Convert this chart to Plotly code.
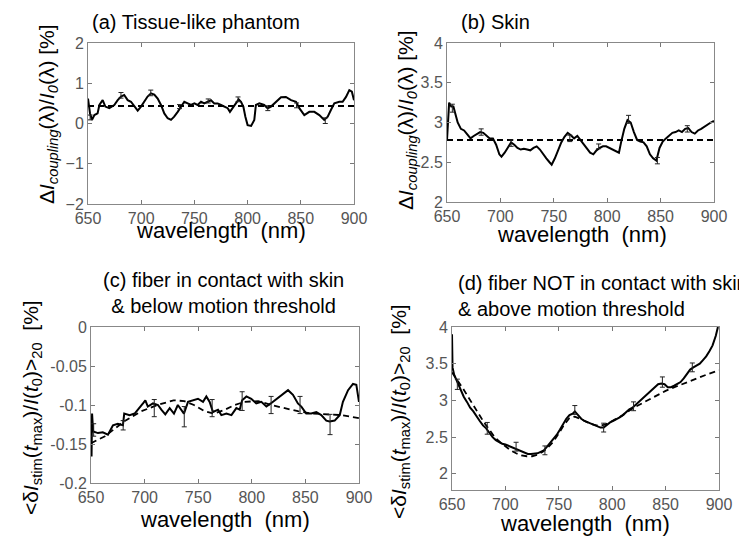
import plotly.graph_objects as go

# ---------------- data ----------------
# (a) Tissue-like phantom
wl_a = [650, 651.9, 653.8, 656, 659, 660.7, 663.8, 666.3, 670, 674.7, 677.9, 681, 684, 687.3, 690.4,
        693.5, 696.7, 699.8, 703, 706, 709.2, 712.3, 715.5, 718.6, 721.7, 724.9, 728, 731, 734.3,
        737.5, 740.5, 743.7, 746.8, 750, 753, 756.2, 759.3, 762.5, 765.6, 768.7, 771.8, 775, 778,
        781.3, 783.4, 786, 789, 791.6, 793.8, 796, 797.9, 800, 803.3, 806.3, 807.8, 811, 815.6,
        818.8, 822, 826.6, 831.4, 836, 840.8, 845.5, 848.6, 853.3, 858, 862.7, 867.4, 872, 875.3,
        878.4, 881.5, 886.2, 889.3, 892.5, 895.6, 898, 900]
val_a = [0.62, 0.25, 0.09, 0.21, 0.25, 0.46, 0.58, 0.42, 0.38, 0.46, 0.58, 0.67, 0.71, 0.58, 0.54,
         0.42, 0.32, 0.42, 0.54, 0.67, 0.75, 0.72, 0.62, 0.46, 0.25, 0.13, 0.09, 0.17, 0.29,
         0.42, 0.54, 0.50, 0.46, 0.50, 0.46, 0.54, 0.50, 0.54, 0.58, 0.50, 0.50, 0.46, 0.42,
         0.38, 0.29, 0.38, 0.50, 0.60, 0.54, 0.42, 0.17, -0.04, -0.06, 0.09, 0.46, 0.50, 0.46,
         0.38, 0.42, 0.54, 0.65, 0.66, 0.58, 0.54, 0.38, 0.21, 0.29, 0.29, 0.21, 0.09, 0.17,
         0.34, 0.50, 0.54, 0.54, 0.66, 0.83, 0.79, 0.58]
fit_a = [0.435, 0.435]
fit_wl_a = [650, 900]
err_wl_a = [652, 681, 709, 736, 763, 791, 819, 846, 873]
err_val_a = [0.15, 0.70, 0.76, 0.42, 0.56, 0.60, 0.38, 0.45, 0.07]
err_a = [0.06, 0.07, 0.07, 0.05, 0.05, 0.06, 0.06, 0.06, 0.07]

# (b) Skin
wl_b = [650, 651, 652, 654, 656, 658, 660, 663, 666, 669, 672, 675, 678, 681, 684, 687, 690, 693,
        696, 699, 701, 704, 707, 710, 713, 716, 719, 722, 725, 728, 731, 734, 737, 740, 743, 746,
        748, 751, 754, 757, 760, 763, 766, 769, 772, 775, 778, 781, 784, 787, 790, 793, 796, 799,
        802, 805, 808, 811, 813, 816, 819, 822, 825, 828, 831, 834, 837, 840, 843, 846, 849, 852,
        855, 858, 861, 864, 867, 870, 873, 876, 879, 882, 885, 888, 891, 894, 897, 900]
val_b = [2.78, 3.10, 3.25, 3.20, 3.20, 3.10, 3.00, 2.92, 2.90, 2.85, 2.80, 2.83, 2.85, 2.88, 2.87,
         2.83, 2.80, 2.80, 2.72, 2.60, 2.57, 2.62, 2.68, 2.75, 2.72, 2.68, 2.66, 2.67, 2.66, 2.65,
         2.68, 2.70, 2.66, 2.60, 2.55, 2.50, 2.47, 2.55, 2.65, 2.75, 2.82, 2.87, 2.84, 2.80, 2.83,
         2.78, 2.73, 2.68, 2.62, 2.60, 2.65, 2.68, 2.70, 2.70, 2.68, 2.65, 2.63, 2.62, 2.75, 2.92,
         3.03, 3.00, 2.88, 2.78, 2.76, 2.75, 2.70, 2.60, 2.55, 2.52, 2.68, 2.76, 2.80, 2.83, 2.87,
         2.88, 2.90, 2.88, 2.92, 2.93, 2.88, 2.86, 2.90, 2.92, 2.95, 2.97, 3.00, 3.02]
fit_b = [2.78, 2.78]
fit_wl_b = [650, 900]
err_wl_b = [655, 682, 710, 765, 792, 820, 847, 875]
err_val_b = [3.18, 2.88, 2.74, 2.80, 2.70, 3.04, 2.52, 2.92]
err_b = [0.05, 0.04, 0.04, 0.04, 0.03, 0.05, 0.04, 0.04]

# (c) fiber in contact with skin & below motion threshold
wl_c = [650, 650.5, 651, 652, 656.5, 661, 665.8, 670.5, 675, 679.8, 681, 686, 690.7, 694, 698.5,
        700.7, 703, 707.8, 712.5, 715.6, 719.3, 723.4, 727.4, 731, 734, 736.7, 740.5, 745, 749.8,
        754.5, 757.6, 760.7, 763.8, 768.5, 771.6, 776.3, 781, 785.6, 788.7, 791, 795, 799.5,
        804.2, 808.9, 813.6, 817.7, 821.4, 826, 830.7, 833.8, 838.4, 843, 846.2, 850.8, 855.5,
        860.2, 864.8, 869.5, 872.6, 877.3, 882, 885, 889.8, 894.4, 897.5, 900]
val_c = [-0.14, -0.166, -0.111, -0.134, -0.136, -0.135, -0.138, -0.126, -0.124, -0.126, -0.111,
         -0.113, -0.111, -0.106, -0.098, -0.094, -0.102, -0.098, -0.100, -0.106, -0.112, -0.104,
         -0.111, -0.100, -0.106, -0.111, -0.096, -0.094, -0.092, -0.096, -0.089, -0.096, -0.109,
         -0.106, -0.113, -0.111, -0.113, -0.104, -0.106, -0.094, -0.089, -0.092, -0.098, -0.096,
         -0.102, -0.098, -0.094, -0.089, -0.085, -0.081, -0.087, -0.098, -0.102, -0.111, -0.111,
         -0.109, -0.113, -0.120, -0.121, -0.120, -0.113, -0.096, -0.081, -0.073, -0.074, -0.096]
fit_wl_c = [650, 663, 681, 697, 712, 727, 737, 746, 756, 765, 775, 784, 793, 806, 818, 831, 843,
            856, 868, 884, 900]
fit_c = [-0.149, -0.140, -0.121, -0.108, -0.100, -0.094, -0.095, -0.100, -0.108, -0.111, -0.106,
         -0.100, -0.096, -0.095, -0.100, -0.104, -0.108, -0.111, -0.112, -0.113, -0.117]
err_wl_c = [652.5, 680, 709, 737, 763, 791, 818, 845, 873]
err_val_c = [-0.132, -0.126, -0.104, -0.115, -0.104, -0.095, -0.100, -0.100, -0.125]
err_c = [0.008, 0.006, 0.011, 0.013, 0.011, 0.012, 0.011, 0.011, 0.013]

# (d) fiber NOT in contact with skin & above motion threshold
wl_d = [650, 650.5, 652, 655, 658, 661, 664, 667, 670, 673, 676, 679, 682, 685, 688, 691, 694,
        697, 700, 703, 706, 709, 712, 715, 718, 721, 724, 727, 730, 733, 736, 739, 742, 745, 748,
        751, 754, 757, 760, 763, 765, 768, 771, 774, 777, 780, 783, 786, 789, 792, 795, 798, 801,
        804, 807, 810, 813, 816, 819, 822, 825, 828, 831, 834, 837, 840, 843, 846, 849, 852, 855,
        858, 861, 864, 867, 870, 873, 876, 879, 882, 885, 888, 891, 894, 897, 899]
val_d = [3.90, 3.45, 3.35, 3.25, 3.15, 3.05, 2.98, 2.90, 2.85, 2.78, 2.72, 2.66, 2.62, 2.56, 2.50,
         2.46, 2.43, 2.41, 2.40, 2.38, 2.36, 2.34, 2.32, 2.30, 2.28, 2.27, 2.27, 2.27, 2.28, 2.30,
         2.32, 2.37, 2.42, 2.47, 2.53, 2.60, 2.68, 2.75, 2.80, 2.82, 2.85, 2.80, 2.75, 2.72, 2.70,
         2.68, 2.66, 2.65, 2.63, 2.63, 2.67, 2.70, 2.72, 2.74, 2.77, 2.80, 2.84, 2.88, 2.90, 2.94,
         2.98, 3.02, 3.06, 3.10, 3.15, 3.19, 3.22, 3.23, 3.22, 3.18, 3.18, 3.20, 3.22, 3.25, 3.30,
         3.36, 3.42, 3.45, 3.47, 3.50, 3.55, 3.60, 3.67, 3.75, 3.88, 4.00]
fit_wl_d = [650, 655, 660, 665, 670, 675, 680, 685, 690, 695, 700, 705, 710, 715, 720, 725, 730,
            735, 740, 745, 750, 755, 760, 765, 770, 775, 780, 785, 790, 795, 800, 810, 820, 830,
            840, 850, 860, 870, 880, 890, 900]
fit_d = [3.38, 3.28, 3.17, 3.05, 2.93, 2.82, 2.70, 2.60, 2.50, 2.43, 2.37, 2.32, 2.28, 2.25, 2.24,
         2.24, 2.26, 2.30, 2.36, 2.44, 2.55, 2.67, 2.76, 2.78, 2.75, 2.71, 2.68, 2.66, 2.66, 2.68,
         2.72, 2.80, 2.90, 2.98, 3.06, 3.13, 3.19, 3.25, 3.31, 3.36, 3.41]
err_wl_d = [655, 683, 710, 737, 765, 792, 820, 847, 875]
err_val_d = [3.22, 2.62, 2.37, 2.32, 2.87, 2.63, 2.92, 3.25, 3.45]
err_d = [0.07, 0.08, 0.06, 0.06, 0.06, 0.06, 0.06, 0.07, 0.06]

x_ticks = [650, 700, 750, 800, 850, 900]
y_ticks_a = [-2, -1, 0, 1, 2]
y_ticks_b = [2, 2.5, 3, 3.5, 4]
y_ticks_c = [-0.2, -0.15, -0.1, -0.05, 0]
y_ticks_c_text = ["-0.2", "-0.15", "-0.1", "-0.05", "0"]
y_ticks_d = [2, 2.5, 3, 3.5, 4]

titles = ["(a) Tissue-like phantom", "(b) Skin",
          "(c) fiber in contact with skin<br>& below motion threshold",
          "(d) fiber NOT in contact with skin<br>& above motion threshold"]
x_title = "wavelength&nbsp; (nm)"


def sub(t):
    return '<sub style="font-size:17px">%s</sub>' % t


y_title_top = ("Δ<i>I</i>" + sub("<i>coupling</i>") + "(λ)/<i>I</i>" + sub("<i>0</i>")
               + "(λ) [%]")
y_title_bot = ("&lt;δ<i>I</i>" + sub("stim") + "(<i>t</i>" + sub("max") + ")/<i>I</i>(<i>t</i>"
               + sub("0") + ")&gt;" + sub("20") + "&nbsp; [%]")

# ---------------- figure ----------------
# the page body has an 8px margin: the figure is sized/positioned to fill the 747x537 view
REF_W, REF_H, OFF = 747, 537, 8
W, H = REF_W - OFF, REF_H - OFF
FONT = "Liberation Sans, Arial, sans-serif"
fig = go.Figure()

panels = [
    dict(wl=wl_a, val=val_a, fwl=fit_wl_a, fit=fit_a, ewl=err_wl_a, ev=err_val_a, e=err_a, ax=""),
    dict(wl=wl_b, val=val_b, fwl=fit_wl_b, fit=fit_b, ewl=err_wl_b, ev=err_val_b, e=err_b, ax="2"),
    dict(wl=wl_c, val=val_c, fwl=fit_wl_c, fit=fit_c, ewl=err_wl_c, ev=err_val_c, e=err_c, ax="3"),
    dict(wl=wl_d, val=val_d, fwl=fit_wl_d, fit=fit_d, ewl=err_wl_d, ev=err_val_d, e=err_d, ax="4"),
]
for p in panels:
    xa, ya = "x" + p["ax"], "y" + p["ax"]
    fig.add_trace(go.Scatter(x=p["fwl"], y=p["fit"], mode="lines", xaxis=xa, yaxis=ya,
                             line=dict(color="black", width=1.8, dash="6px,4px"), showlegend=False))
    fig.add_trace(go.Scatter(x=p["wl"], y=p["val"], mode="lines", xaxis=xa, yaxis=ya,
                             line=dict(color="black", width=2), showlegend=False))
    fig.add_trace(go.Scatter(x=p["ewl"], y=p["ev"], mode="markers", xaxis=xa, yaxis=ya,
                             marker=dict(size=1, color="black", opacity=0),
                             error_y=dict(type="data", array=p["e"], color="#222", thickness=1, width=2.5),
                             showlegend=False))


def px_x(x):
    return (x - OFF) / W


def px_y(y):
    return 1 - (y - OFF) / H


def px_dom_x(a, b):
    return [px_x(a), px_x(b)]


def px_dom_y(top, bottom):
    return [px_y(bottom), px_y(top)]


def xaxis(dom, anchor):
    return dict(domain=dom, anchor=anchor, range=[650, 900], tickvals=x_ticks, automargin=False,
                ticks="inside", ticklen=4, tickcolor="#777", showline=True, linecolor="#888",
                linewidth=1, mirror="ticks", showgrid=False, zeroline=False,
                tickfont=dict(family=FONT, size=16, color="#555"))


def yaxis(dom, anchor, rng, tv, tt=None):
    d = dict(domain=dom, anchor=anchor, range=rng, tickvals=tv, automargin=False,
             ticks="inside", ticklen=4, tickcolor="#777", showline=True, linecolor="#888",
             linewidth=1, mirror="ticks", showgrid=False, zeroline=False,
             tickfont=dict(family=FONT, size=16, color="#555"))
    if tt is not None:
        d["ticktext"] = tt
    return d


fig.update_layout(
    width=W, height=H, margin=dict(l=0, r=0, t=0, b=0, pad=0), autosize=False,
    paper_bgcolor="white", plot_bgcolor="white", showlegend=False,
    xaxis=xaxis(px_dom_x(88, 354), "y"),
    yaxis=yaxis(px_dom_y(43, 204), "x", [-2, 2], y_ticks_a),
    xaxis2=xaxis(px_dom_x(447, 714), "y2"),
    yaxis2=yaxis(px_dom_y(43, 202), "x2", [2, 4], y_ticks_b),
    xaxis3=xaxis(px_dom_x(91, 359), "y3"),
    yaxis3=yaxis(px_dom_y(327, 483), "x3", [-0.2, 0], y_ticks_c, y_ticks_c_text),
    xaxis4=xaxis(px_dom_x(452, 719), "y4"),
    yaxis4=yaxis(px_dom_y(327, 490), "x4", [1.78, 4], y_ticks_d),
)


def ann(text, x, y, size, xanchor="center", angle=0, align="center"):
    fig.add_annotation(text=text, x=px_x(x), y=px_y(y), xref="paper", yref="paper",
                       xanchor=xanchor, yanchor="middle", showarrow=False, textangle=angle,
                       align=align, font=dict(family=FONT, size=size, color="black"))


# panel titles
ann(titles[0], 90, 22, 20, xanchor="left", align="left")
ann(titles[1], 459, 22, 20, xanchor="left", align="left")
ann(titles[2], 223, 293, 20)
ann(titles[3], 456, 296, 20, xanchor="left", align="left")

# x titles
ann(x_title, 221, 230, 22)
ann(x_title, 582, 234, 22)
ann(x_title, 225, 519, 22)
ann(x_title, 585, 523, 22)

# y titles
ann(y_title_top, 48, 114, 21, angle=-90)
ann(y_title_top, 407, 120, 21, angle=-90)
ann(y_title_bot, 32, 408, 21, angle=-90)
ann(y_title_bot, 400, 412, 21, angle=-90)

fig.write_html("out.html")
